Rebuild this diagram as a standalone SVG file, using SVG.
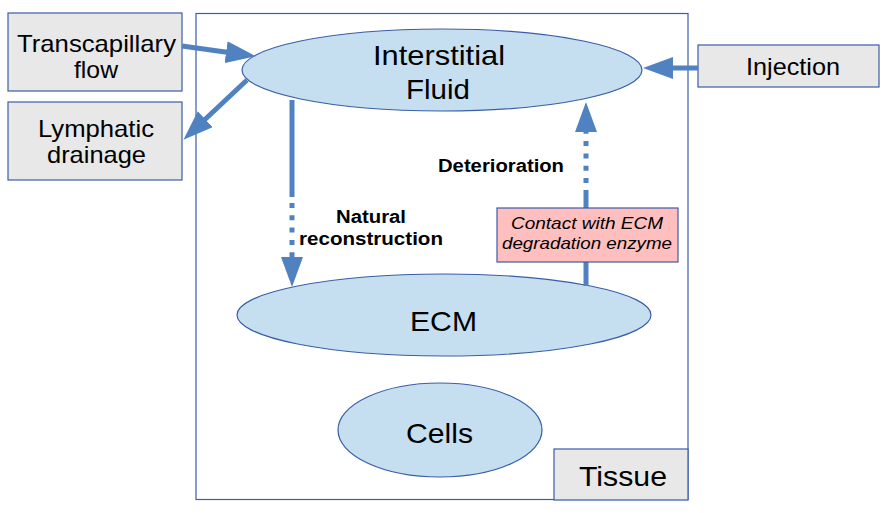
<svg xmlns="http://www.w3.org/2000/svg" width="885" height="513" viewBox="0 0 885 513">
<style>
.box{fill:#e8e8e8;stroke:#3a5ea6;stroke-width:1.2}
.ell{fill:#c5dff1;stroke:#3a5ea6;stroke-width:1.2}
.t{font-family:"Liberation Sans",Arial,sans-serif;fill:#000;text-anchor:middle}
.big{font-size:28px}
.med{font-size:24px}
.lbl{font-size:18px;font-weight:bold}
.it{font-size:16.5px;font-style:italic}
.conn{stroke:#5082c2;stroke-width:5;fill:none}
.dot{stroke:#5082c2;stroke-width:5;fill:none;stroke-dasharray:5 7.3}
</style>
<defs>
<marker id="ah" markerUnits="userSpaceOnUse" markerWidth="30" markerHeight="22" refX="10" refY="11" orient="auto">
<path d="M0,0 L30,11 L0,22 z" fill="#5082c2"/>
</marker>
</defs>
<rect width="885" height="513" fill="#fff"/>
<g id="tissue">
<rect x="196" y="13.5" width="492" height="486" fill="#fff" stroke="#3a5ea6" stroke-width="1.2"/>
<rect class="box" x="554" y="449" width="134" height="51"/>
<text class="t big" x="623" y="486" textLength="88" lengthAdjust="spacingAndGlyphs">Tissue</text>
</g>
<g id="transcapillary">
<rect class="box" x="8" y="13" width="174" height="78"/>
<text class="t med" x="96.5" y="52" textLength="159" lengthAdjust="spacingAndGlyphs">Transcapillary</text>
<text class="t med" x="96" y="78" textLength="44" lengthAdjust="spacingAndGlyphs">flow</text>
</g>
<g id="lymphatic">
<rect class="box" x="8" y="102" width="174" height="78"/>
<text class="t med" x="96" y="137" textLength="116" lengthAdjust="spacingAndGlyphs">Lymphatic</text>
<text class="t med" x="96.5" y="163" textLength="99" lengthAdjust="spacingAndGlyphs">drainage</text>
</g>
<g id="injection">
<rect class="box" x="698" y="45" width="181" height="42"/>
<text class="t med" x="793" y="75" textLength="94" lengthAdjust="spacingAndGlyphs">Injection</text>
</g>
<g id="interstitial">
<ellipse class="ell" cx="442" cy="70" rx="200" ry="41"/>
<text class="t big" x="439" y="65" textLength="132" lengthAdjust="spacingAndGlyphs">Interstitial</text>
<text class="t big" x="438" y="99" textLength="64" lengthAdjust="spacingAndGlyphs">Fluid</text>
</g>
<g id="ecm">
<ellipse class="ell" cx="444" cy="315" rx="207" ry="41"/>
<text class="t big" x="443.5" y="331" textLength="67" lengthAdjust="spacingAndGlyphs">ECM</text>
</g>
<g id="cells">
<ellipse class="ell" cx="440" cy="430" rx="102" ry="47"/>
<text class="t big" x="439.5" y="443" textLength="67" lengthAdjust="spacingAndGlyphs">Cells</text>
</g>
<g id="connectors">
<line class="conn" x1="182" y1="46" x2="236" y2="53.5" marker-end="url(#ah)"/>
<line class="conn" x1="247" y1="80" x2="198" y2="126" marker-end="url(#ah)"/>
<line class="conn" x1="698" y1="68" x2="663" y2="68" marker-end="url(#ah)"/>
<line class="conn" x1="292" y1="100" x2="292" y2="197"/>
<line class="dot" x1="292" y1="203" x2="292" y2="267" marker-end="url(#ah)"/>
<line class="conn" x1="586" y1="286" x2="586" y2="262"/>
<line class="conn" x1="586" y1="208" x2="586" y2="190"/>
<line class="dot" x1="586" y1="183" x2="586" y2="122" marker-end="url(#ah)"/>
<text class="t lbl" x="371" y="223" textLength="70" lengthAdjust="spacingAndGlyphs">Natural</text>
<text class="t lbl" x="371" y="245" textLength="144" lengthAdjust="spacingAndGlyphs">reconstruction</text>
<text class="t lbl" x="501" y="172" textLength="126" lengthAdjust="spacingAndGlyphs">Deterioration</text>
</g>
<g id="contact">
<rect x="497" y="208" width="181" height="54" fill="#ffbfbf" stroke="#3a5ea6" stroke-width="1.2"/>
<text class="t it" x="587" y="229" textLength="152" lengthAdjust="spacingAndGlyphs">Contact with ECM</text>
<text class="t it" x="587" y="249" textLength="170" lengthAdjust="spacingAndGlyphs">degradation enzyme</text>
</g>
</svg>
